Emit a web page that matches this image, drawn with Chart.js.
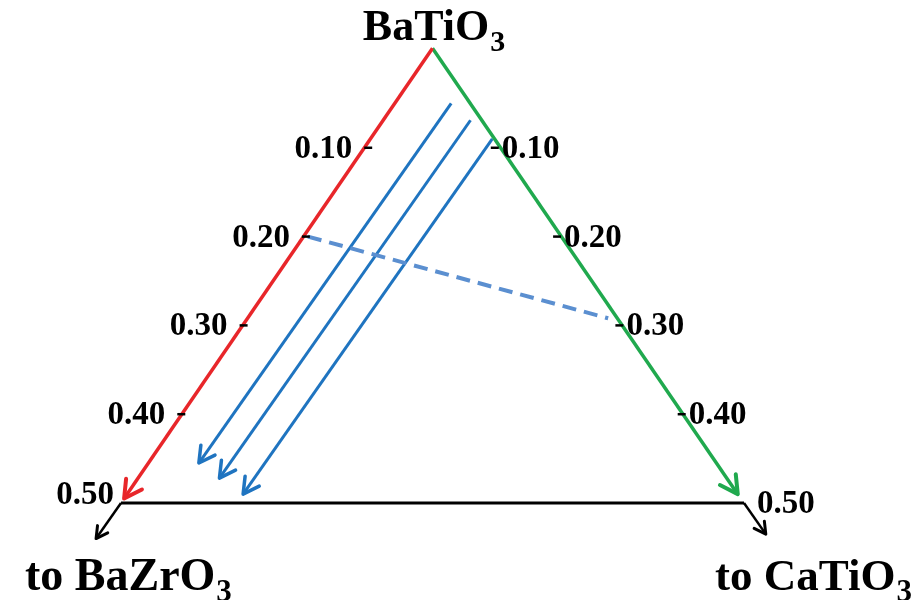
<!DOCTYPE html>
<html>
<head>
<meta charset="utf-8">
<script src="https://cdn.jsdelivr.net/npm/chart.js@4.4.0/dist/chart.umd.min.js"></script>
<style>
  body { margin: 0; background: #fff; }
  #wrap { width: 919px; height: 600px; }
</style>
</head>
<body>
<div id="wrap"><canvas id="ternary"></canvas></div>
<script>
// composition points are [BaZrO3 fraction, CaTiO3 fraction]
const tickValues = [0.1, 0.2, 0.3, 0.4, 0.5];
const tickLabels = ['0.10', '0.20', '0.30', '0.40', '0.50'];

const zrEdge = [[-0.006, -0.006], [0.495, 0]];   // red, BaTiO3 -> BaZrO3
const caEdge = [[-0.006, -0.006], [0, 0.49]];    // green, BaTiO3 -> CaTiO3
const baseEdge = [[0.5, 0], [0, 0.5]];
const zrExtend = [[0.5, 0], [0.54, 0]];
const caExtend = [[0, 0.5], [0, 0.535]];

// three parallel paths (constant CaTiO3, rising BaZrO3)
const pathCa = [0.04, 0.065, 0.093];
const pathStartZr = [0.01, 0.004, -0.003];
const pathEndZr = [0.415, 0.407, 0.397];

const dashLine = [[0.2, 0], [0.005, 0.287]];

// ternary -> cartesian
function toXY(p) {
    return { x: p[1] - p[0], y: 0.5 - p[0] - p[1] };
}

const red = '#e8262a';
const green = '#20a94e';
const blue = '#1f74c0';
const dashBlue = '#5b8fd0';

function lineSet(points, color, width, extra) {
    return Object.assign({
        data: points.map(toXY),
        borderColor: color,
        borderWidth: width,
        showLine: true,
        pointRadius: 0,
        fill: false,
        tension: 0
    }, extra || {});
}

const datasets = [
    lineSet(baseEdge, '#000', 3),
    lineSet(zrExtend, '#000', 2.5, { arrow: 13 }),
    lineSet(caExtend, '#000', 2.5, { arrow: 13 }),
    lineSet(zrEdge, red, 3.5, { arrow: 20 }),
    lineSet(caEdge, green, 3.5, { arrow: 20 }),
    lineSet(dashLine, dashBlue, 4, { borderDash: [14, 8] })
];
pathCa.forEach(function (c, i) {
    datasets.push(lineSet([[pathStartZr[i], c], [pathEndZr[i], c]], blue, 3, { arrow: 18 }));
});

const arrowPlugin = {
    id: 'arrows',
    afterDatasetsDraw(chart) {
        const ctx = chart.ctx;
        chart.data.datasets.forEach(function (ds, i) {
            if (!ds.arrow) return;
            const pts = chart.getDatasetMeta(i).data;
            const a = pts[pts.length - 2], b = pts[pts.length - 1];
            const ang = Math.atan2(b.y - a.y, b.x - a.x);
            ctx.save();
            ctx.strokeStyle = ds.borderColor;
            ctx.lineWidth = ds.borderWidth + 0.5;
            ctx.lineCap = 'round';
            ctx.lineJoin = 'round';
            ctx.beginPath();
            ctx.moveTo(b.x - ds.arrow * Math.cos(ang - 0.5), b.y - ds.arrow * Math.sin(ang - 0.5));
            ctx.lineTo(b.x, b.y);
            ctx.lineTo(b.x - ds.arrow * Math.cos(ang + 0.5), b.y - ds.arrow * Math.sin(ang + 0.5));
            ctx.stroke();
            ctx.restore();
        });
    }
};

function subText(ctx, main, sub, x, y, size, align) {
    ctx.font = 'bold ' + size + 'px "Liberation Serif"';
    const w1 = ctx.measureText(main).width;
    ctx.font = 'bold ' + Math.round(size * 0.68) + 'px "Liberation Serif"';
    const w2 = ctx.measureText(sub).width;
    let left = x;
    if (align === 'center') left = x - (w1 + w2) / 2;
    ctx.textAlign = 'left';
    ctx.textBaseline = 'alphabetic';
    ctx.font = 'bold ' + size + 'px "Liberation Serif"';
    ctx.fillText(main, left, y);
    ctx.font = 'bold ' + Math.round(size * 0.68) + 'px "Liberation Serif"';
    ctx.fillText(sub, left + w1 + 1, y + 11);
}

const labelPlugin = {
    id: 'labels',
    afterDraw(chart) {
        const ctx = chart.ctx;
        const sx = chart.scales.x, sy = chart.scales.y;
        const px = function (p) {
            const q = toXY(p);
            return { x: sx.getPixelForValue(q.x), y: sy.getPixelForValue(q.y) };
        };
        ctx.save();
        ctx.fillStyle = '#000';
        ctx.strokeStyle = '#000';
        ctx.lineWidth = 2.5;

        tickValues.forEach(function (v, i) {
            // left side (BaZrO3)
            const l = px([v, 0]);
            if (i < 4) {
                ctx.beginPath();
                ctx.moveTo(l.x - 6, l.y);
                ctx.lineTo(l.x + 2, l.y);
                ctx.stroke();
            }
            ctx.font = 'bold 33px "Liberation Serif"';
            ctx.textAlign = 'right';
            ctx.textBaseline = 'alphabetic';
            if (i < 4) ctx.fillText(tickLabels[i], l.x - 18, l.y + 10);
            else ctx.fillText(tickLabels[i], l.x - 7, l.y + 1);

            // right side (CaTiO3)
            const r = px([0, v]);
            if (i < 4) {
                ctx.beginPath();
                ctx.moveTo(r.x - 4, r.y);
                ctx.lineTo(r.x + 4, r.y);
                ctx.stroke();
            }
            ctx.textAlign = 'left';
            if (i < 4) ctx.fillText(tickLabels[i], r.x + 7, r.y + 10);
            else ctx.fillText(tickLabels[i], r.x + 13, r.y + 10);
        });

        const top = px([-0.006, -0.006]);
        subText(ctx, 'BaTiO', '3', top.x + 1, top.y - 8, 44, 'center');
        const lv = px([0.5, 0]);
        subText(ctx, 'to BaZrO', '3', lv.x - 96, lv.y + 87, 46, 'left');
        const rv = px([0, 0.5]);
        subText(ctx, 'to CaTiO', '3', rv.x - 29, rv.y + 87, 45, 'left');
        ctx.restore();
    }
};

new Chart(document.getElementById('ternary').getContext('2d'), {
    type: 'scatter',
    data: { datasets: datasets },
    options: {
        responsive: true,
        maintainAspectRatio: false,
        animation: false,
        layout: { padding: 0 },
        plugins: {
            legend: { display: false },
            tooltip: { enabled: false }
        },
        scales: {
            x: { type: 'linear', display: false, min: -0.6942, max: 0.7809 },
            y: { type: 'linear', display: false, min: -0.1092, max: 0.5664 }
        }
    },
    plugins: [arrowPlugin, labelPlugin]
});
</script>
</body>
</html>
